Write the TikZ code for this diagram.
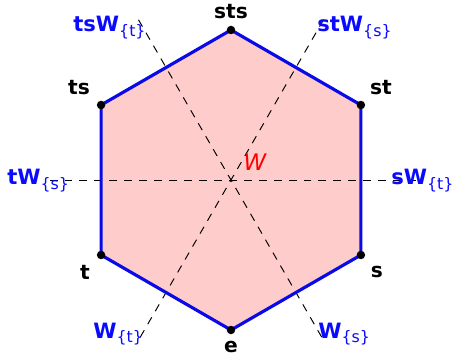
\documentclass[tikz,border=0pt]{standalone}
\usepackage{fontspec}
\setmainfont{DejaVu Sans}
\usepackage{tikz}
\usetikzlibrary{calc}
\definecolor{hexblue}{RGB}{10,10,230}
\definecolor{hexpink}{RGB}{255,204,204}
\definecolor{wallblue}{RGB}{10,10,255}
\newcommand{\wlabel}[2]{\textbf{#1}\raisebox{-2.6pt}{\fontsize{9}{10}\selectfont\{#2\}}}

\begin{document}
\begin{tikzpicture}[
    vlabel/.style={font=\fontsize{11.5}{12}\selectfont\bfseries, inner sep=0pt},
    wlab/.style={font=\fontsize{12}{12}\selectfont, text=wallblue, inner sep=0pt, anchor=base west},
    mirror/.style={dash pattern=on 4.5pt off 4pt, line width=0.55pt}]
  \useasboundingbox (-4.62,-3.5) rectangle (4.44,3.6);

  % Vertices of the hexagon
  \def\R{3}
  \coordinate (e)   at (270:\R);
  \coordinate (s)   at (-30:\R);
  \coordinate (st)  at (30:\R);
  \coordinate (sts) at (90:\R);
  \coordinate (ts)  at (150:\R);
  \coordinate (t)   at (210:\R);

  % Fill
  \fill[hexpink] (e) -- (s) -- (st) -- (sts) -- (ts) -- (t) -- cycle;

  % Mirror lines
  \coordinate (m0a) at (0:3.7);   \coordinate (m0b) at (180:3.7);
  \coordinate (m1a) at (60:3.7);  \coordinate (m1b) at (240:3.7);
  \coordinate (m2a) at (120:3.7); \coordinate (m2b) at (300:3.7);
  \draw[mirror] (m0a) -- (m0b);
  \draw[mirror] (m1a) -- (m1b);
  \draw[mirror] (m2a) -- (m2b);

  % Border
  \draw[hexblue, line width=1.8pt, line join=round]
    (e) -- (s) -- (st) -- (sts) -- (ts) -- (t) -- cycle;

  % Vertex dots
  \foreach \v in {e, s, st, sts, ts, t}
    \fill (\v) circle (0.085);

  % Vertex labels
  \node[vlabel] (le)   at (0,-3.34)    {e};
  \node[vlabel] (ls)   at (2.92,-1.84) {s};
  \node[vlabel] (lst)  at (3.0,1.84)   {st};
  \node[vlabel] (lsts) at (0,3.36)     {sts};
  \node[vlabel] (lts)  at (-3.04,1.84) {ts};
  \node[vlabel] (lt)   at (-2.92,-1.84){t};

  % Wall labels
  \node[wlab] (wts)  at (-3.16,2.96)  {\wlabel{tsW}{t}};
  \node[wlab] (wst)  at (1.72,2.96)   {\wlabel{stW}{s}};
  \node[wlab] (wtt)  at (-4.48,-0.1)  {\wlabel{tW}{s}};
  \node[wlab] (wss)  at (3.2,-0.1)    {\wlabel{sW}{t}};
  \node[wlab] (wt)   at (-2.76,-3.16) {\wlabel{W}{t}};
  \node[wlab] (ws)   at (1.74,-3.16)  {\wlabel{W}{s}};

  % Group name
  \node[red, font=\fontsize{13}{13}\selectfont\itshape, inner sep=0pt] (grp) at (0.48,0.36) {W};
\end{tikzpicture}
\end{document}
